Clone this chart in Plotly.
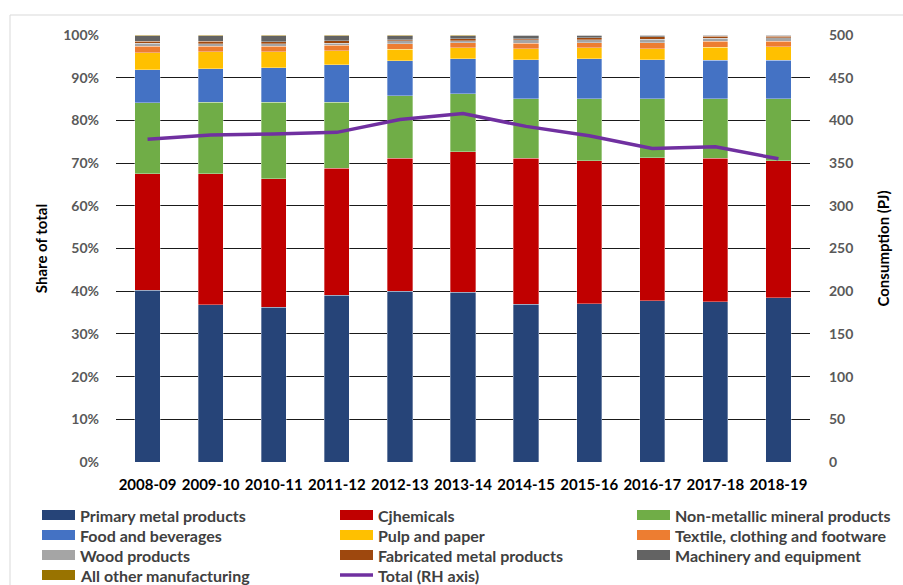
import plotly.graph_objects as go

# Financial years on the category axis
years = ["2008-09", "2009-10", "2010-11", "2011-12", "2012-13", "2013-14",
         "2014-15", "2015-16", "2016-17", "2017-18", "2018-19"]

# Share of manufacturing energy consumption by sub-sector (% of total)
primary_metal = [40.2, 36.8, 36.3, 39.1, 40.0, 39.7, 36.9, 37.1, 37.8, 37.5, 38.5]
chemicals     = [27.3, 30.7, 30.0, 29.7, 31.1, 33.0, 34.2, 33.5, 33.5, 33.6, 32.0]
non_metallic  = [16.6, 16.8, 17.9, 15.4, 14.7, 13.5, 14.0, 14.5, 13.8, 14.0, 14.6]
food_bev      = [7.8, 7.8, 8.1, 8.8, 8.2, 8.2, 9.1, 9.3, 9.1, 9.0, 9.0]
pulp_paper    = [4.0, 4.0, 3.8, 3.3, 2.7, 2.6, 2.6, 2.6, 2.6, 3.0, 3.1]
textile       = [1.5, 1.3, 1.3, 1.3, 1.3, 1.2, 1.3, 1.2, 1.4, 1.4, 1.3]
wood          = [0.7, 0.6, 0.6, 0.5, 0.7, 0.5, 0.8, 0.7, 0.8, 0.7, 0.85]
fabricated    = [0.4, 0.5, 0.4, 0.5, 0.2, 0.4, 0.25, 0.5, 0.6, 0.5, 0.4]
machinery     = [1.3, 1.3, 1.4, 1.2, 0.9, 0.7, 0.75, 0.5, 0.3, 0.2, 0.15]
other_manuf   = [0.2, 0.2, 0.2, 0.2, 0.2, 0.2, 0.1, 0.1, 0.1, 0.1, 0.1]

# Total manufacturing consumption (PJ), right-hand axis
total_pj = [378, 383, 384, 386, 401, 408, 393, 382, 367, 369, 355]

series = [
    ("Primary metal products", primary_metal, "#264478"),
    ("Cjhemicals", chemicals, "#C00000"),
    ("Non-metallic mineral products", non_metallic, "#70AD47"),
    ("Food and beverages", food_bev, "#4472C4"),
    ("Pulp and paper", pulp_paper, "#FFC000"),
    ("Textile, clothing and footware", textile, "#ED7D31"),
    ("Wood products", wood, "#A5A5A5"),
    ("Fabricated metal products", fabricated, "#9E480E"),
    ("Machinery and equipment", machinery, "#636363"),
    ("All other manufacturing", other_manuf, "#997300"),
]
line_name = "Total (RH axis)"
line_color = "#7030A0"

W, H = 903, 585
L, R, T, B = 116, 810, 35, 462

font_family = "Lato, 'Open Sans', sans-serif"

fig = go.Figure()
for name, vals, col in series:
    fig.add_trace(go.Bar(
        x=years, y=vals, name=name, marker_color=col,
        marker_line=dict(width=0.6, color="rgba(255,255,255,0.55)"),
        showlegend=False,
    ))

fig.add_trace(go.Scatter(
    x=years, y=total_pj, name=line_name, yaxis="y2", mode="lines",
    line=dict(color=line_color, width=3.5), showlegend=False,
))

def xp(px):
    return (px - L) / (R - L)

def yp(py):
    return (B - py) / (B - T)

shapes = []
annotations = []

# Light outer border of the chart area
shapes.append(dict(type="rect", xref="paper", yref="paper",
                   x0=xp(10), x1=xp(960), y0=yp(15), y1=yp(640),
                   line=dict(color="#D9D9D9", width=1), fillcolor="rgba(0,0,0,0)",
                   layer="below"))

# Legend laid out in three columns
col_x = [42, 340, 637]
entries = [(n, c, "bar") for n, _, c in series] + [(line_name, line_color, "line")]
for i, (name, col, kind) in enumerate(entries):
    cx = col_x[i % 3]
    cy = 515 + 20 * (i // 3)
    if kind == "bar":
        shapes.append(dict(type="rect", xref="paper", yref="paper",
                           x0=xp(cx), x1=xp(cx + 33), y0=yp(cy - 5), y1=yp(cy + 5),
                           line=dict(width=0), fillcolor=col))
    else:
        shapes.append(dict(type="line", xref="paper", yref="paper",
                           x0=xp(cx), x1=xp(cx + 33), y0=yp(cy), y1=yp(cy),
                           line=dict(color=col, width=3.5)))
    annotations.append(dict(text=name, xref="paper", yref="paper",
                            x=xp(cx + 36), y=yp(cy), xanchor="left", yanchor="middle",
                            showarrow=False,
                            font=dict(family=font_family, size=16, color="#404040",
                                      weight="bold")))

fig.update_layout(
    width=W, height=H,
    margin=dict(l=L, r=W - R, t=T, b=H - B, pad=0),
    paper_bgcolor="white", plot_bgcolor="white",
    barmode="stack", bargap=0.6,
    showlegend=False,
    font=dict(family=font_family, size=14, color="#404040"),
    xaxis=dict(
        type="category", showgrid=False, showline=False, zeroline=False,
        ticks="", ticklabelstandoff=12,
        tickfont=dict(family=font_family, size=15, color="#000000", weight="bold"),
    ),
    yaxis=dict(
        range=[0, 100], dtick=10, ticksuffix="%",
        showgrid=True, gridcolor="#1A1A1A", gridwidth=1.3,
        zeroline=False, showline=False, ticks="", ticklabelstandoff=16,
        tickfont=dict(family=font_family, size=14, color="#595959", weight="bold"),
        title=dict(text="Share of total", standoff=11,
                   font=dict(family=font_family, size=15, color="#000000", weight="bold")),
    ),
    yaxis2=dict(
        overlaying="y", side="right", range=[0, 500], dtick=50,
        showgrid=False, zeroline=False, showline=False, ticks="",
        ticklabelstandoff=18,
        tickfont=dict(family=font_family, size=14, color="#595959", weight="bold"),
        title=dict(text="Consumption (PJ)", standoff=26,
                   font=dict(family=font_family, size=15, color="#000000", weight="bold")),
    ),
    shapes=shapes,
    annotations=annotations,
)

fig.write_html("out.html")
